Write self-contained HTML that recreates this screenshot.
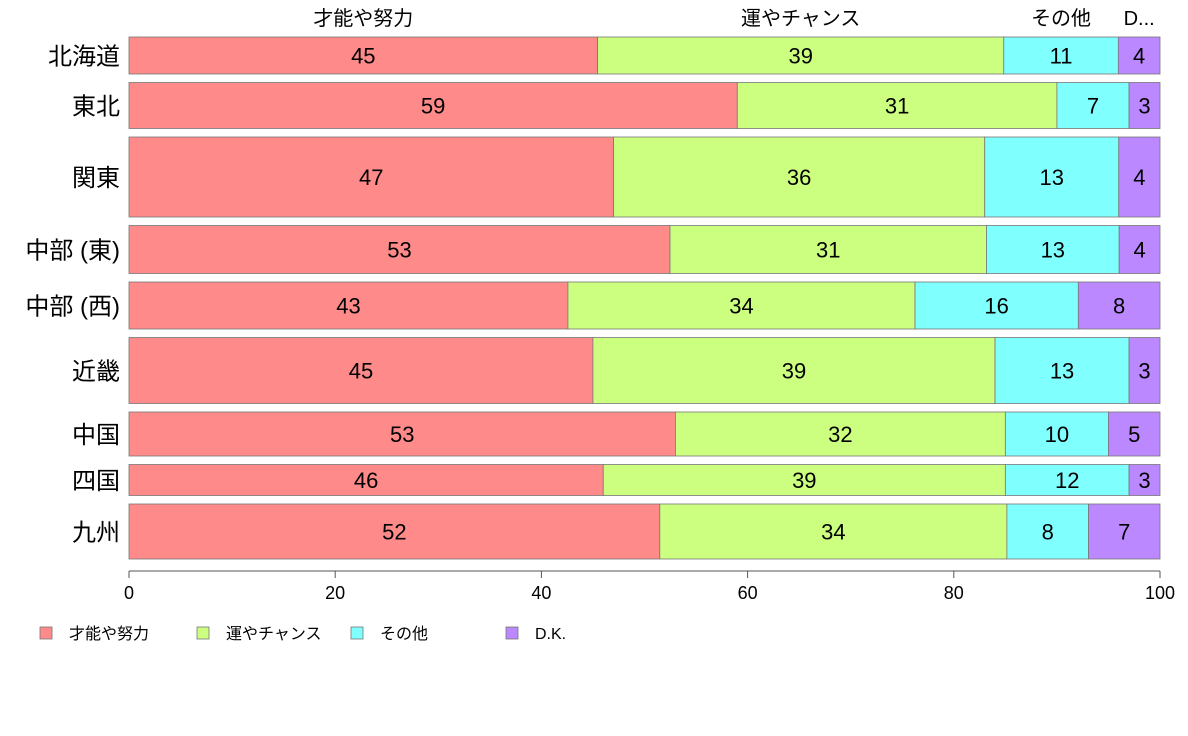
<!DOCTYPE html>
<html><head><meta charset="utf-8">
<style>
html,body{margin:0;padding:0;background:#fff;}
svg{display:block;font-family:"Liberation Sans","Noto Sans CJK JP",sans-serif;}
</style></head>
<body>
<svg id="chart" width="1188" height="736" viewBox="0 0 1188 736" xmlns="http://www.w3.org/2000/svg"></svg>
<script>
const regions = ["北海道","東北","関東","中部 (東)","中部 (西)","近畿","中国","四国","九州"];
const seriesNames = ["才能や努力","運やチャンス","その他","D.K."];
const talent = [45,59,47,53,43,45,53,46,52];
const luck = [39,31,36,31,34,39,32,39,34];
const other = [11,7,13,13,16,13,10,12,8];
const dk = [4,3,4,4,8,3,5,3,7];
const weights = [37,46,80,48,47,66,44,31,55];
const ticks = [0,20,40,60,80,100];
const topLabels = ["才能や努力","運やチャンス","その他","D..."];

const colors = ["#FF8A8A","#CCFF80","#80FFFF","#BB88FF"];
const svg = document.getElementById('chart');
const NS = "http://www.w3.org/2000/svg";
const x0 = 129, x1 = 1160, yTop = 37, yBot = 559, gap = 8.5;
const xs = v => x0 + (x1 - x0) * v / 100;
function mk(tag, attrs, text){
  const e = document.createElementNS(NS, tag);
  for (const k in attrs) e.setAttribute(k, attrs[k]);
  if (text !== undefined) e.textContent = text;
  svg.appendChild(e);
  return e;
}
const series = [talent, luck, other, dk];
const totalW = weights.reduce((a,b)=>a+b,0);
const avail = (yBot - yTop) - gap * (regions.length - 1);
let y = yTop;
regions.forEach((r, i) => {
  const h = avail * weights[i] / totalW;
  const sum = series.reduce((a,s)=>a+s[i],0);
  let cum = 0;
  series.forEach((s, j) => {
    const a = xs(cum / sum * 100), b = xs((cum + s[i]) / sum * 100);
    const rect = mk('rect', {x:a, y:y, width:b-a, height:h, fill:colors[j], stroke:"#777", "stroke-width":0.8});
    
    
    const t = mk('text', {x:(a+b)/2, y:y+h/2+8, "text-anchor":"middle", "font-size":22, fill:"#000"}, s[i]);
    
    
    if (i === 0) {
      const tl = mk('text', {x:(a+b)/2, y:25, "text-anchor":"middle", "font-size":20, fill:"#000"}, topLabels[j]);
      
      
    }
    cum += s[i];
  });
  const yl = mk('text', {x:120, y:y+h/2+9, "text-anchor":"end", "font-size":24, fill:"#000"}, r);
  
  
  y += h + gap;
});
// x axis
const ax = mk('line', {x1:x0, x2:x1, y1:571, y2:571, stroke:"#555", "stroke-width":1});


ticks.forEach(t => {
  const tk = mk('line', {x1:xs(t), x2:xs(t), y1:571, y2:578, stroke:"#555", "stroke-width":1});
  
  
  const tl = mk('text', {x:xs(t), y:599, "text-anchor":"middle", "font-size":18, fill:"#000"}, t);
  
  
});
// legend
const lx = [40, 197, 351, 506];
seriesNames.forEach((n, j) => {
  const sw = mk('rect', {x:lx[j], y:627, width:12, height:12, fill:colors[j], stroke:"#777", "stroke-width":0.8});
  
  
  const lt = mk('text', {x:lx[j]+29, y:639, "font-size":16, fill:"#000"}, n);
  
  
});
</script>
</body></html>
